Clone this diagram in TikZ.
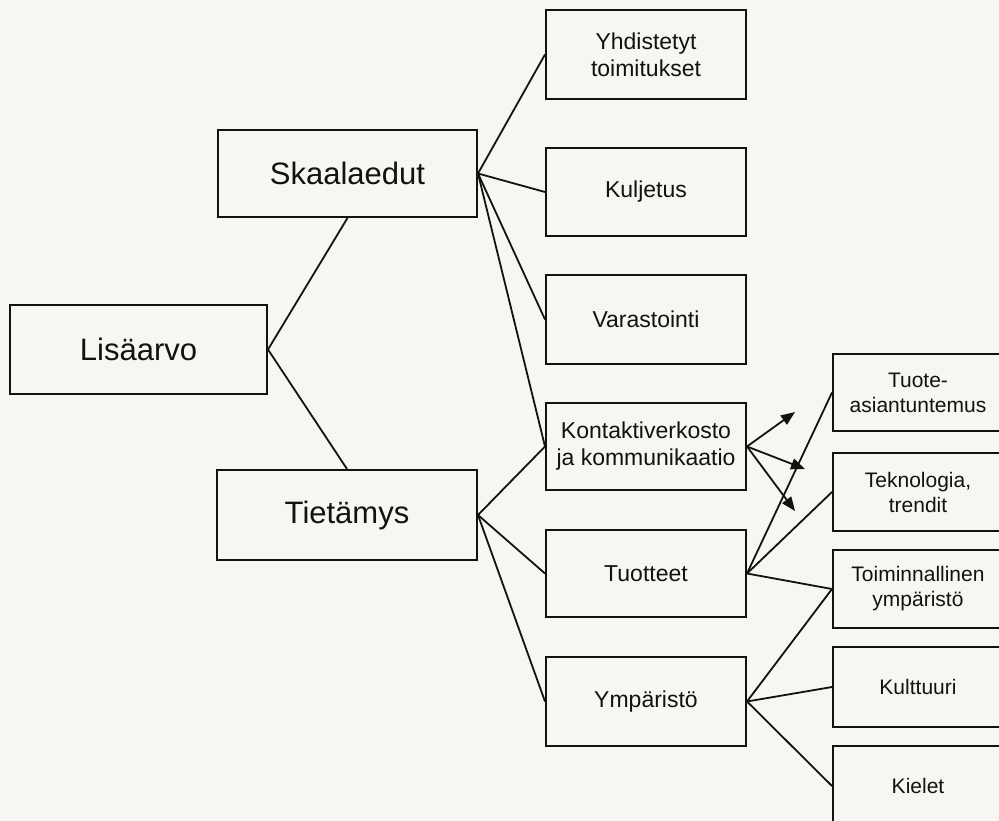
\documentclass[tikz,border=0pt]{standalone}
\usepackage{fontspec}
\setmainfont{Liberation Sans}
\usetikzlibrary{arrows.meta}
\definecolor{paper}{RGB}{248,246,243}
\definecolor{ink}{RGB}{20,18,16}
\tikzset{
  box/.style={draw=ink, line width=2pt, fill=paper, rectangle, inner sep=0pt,
    align=center, text=ink},
  bigbox/.style={box, font=\fontsize{31}{35}\selectfont},
  midbox/.style={box, font=\fontsize{23}{27}\selectfont, minimum width=200pt},
  smallbox/.style={box, font=\fontsize{21}{25}\selectfont, minimum width=170pt},
  link/.style={draw=ink, line width=1.8pt},
  arrowlink/.style={link, -{Triangle[length=14pt,width=11pt]}}
}
\begin{document}
\begin{tikzpicture}[x=1pt, y=-1pt]
  \useasboundingbox (0,0) rectangle (999,821);
  \clip (0,0) rectangle (999,821);
  \fill[paper] (0,0) rectangle (999,821);

  % left and second column
  \node[bigbox, minimum width=257pt, minimum height=89pt] (lisa)   at (138.5,349.5) {Lisäarvo};
  \node[bigbox, minimum width=259pt, minimum height=87pt] (skaala) at (347.5,173.5) {Skaalaedut};
  \node[bigbox, minimum width=260pt, minimum height=90pt] (tieta)  at (347,515)     {Tietämys};

  % middle column
  \node[midbox, minimum height=89pt] (yhd)  at (646,54.5)  {Yhdistetyt\\toimitukset};
  \node[midbox, minimum height=88pt] (kulj) at (646,192)   {Kuljetus};
  \node[midbox, minimum height=89pt] (vara) at (646,319.5) {Varastointi};
  \node[midbox, minimum height=87pt] (kont) at (646,446.5) {Kontaktiverkosto\\ja kommunikaatio};
  \node[midbox, minimum height=87pt] (tuot) at (646,573.5) {Tuotteet};
  \node[midbox, minimum height=89pt] (ymp)  at (646,701.5) {Ympäristö};

  % right column
  \node[smallbox, minimum height=77pt] (tuote) at (918,392.5) {Tuote-\\asiantuntemus};
  \node[smallbox, minimum height=78pt] (tekn)  at (918,492)   {Teknologia,\\trendit};
  \node[smallbox, minimum height=78pt] (toim)  at (918,589)   {Toiminnallinen\\ympäristö};
  \node[smallbox, minimum height=80pt] (kult)  at (918,687)   {Kulttuuri};
  \node[smallbox, minimum height=80pt] (kiel)  at (918,786)   {Kielet};

  % arrow ends out of the contact network box
  \coordinate (a1) at (795,412);
  \coordinate (a2) at (805,469);
  \coordinate (a3) at (795,511);

  % connectors
  \draw[link] (lisa.east) -- (skaala.south);
  \draw[link] (lisa.east) -- (tieta.north);

  \draw[link] (skaala.east) -- (yhd.west);
  \draw[link] (skaala.east) -- (kulj.west);
  \draw[link] (skaala.east) -- (vara.west);
  \draw[link] (skaala.east) -- (kont.west);

  \draw[link] (tieta.east) -- (kont.west);
  \draw[link] (tieta.east) -- (tuot.west);
  \draw[link] (tieta.east) -- (ymp.west);

  \draw[link] (tuot.east) -- (tuote.west);
  \draw[link] (tuot.east) -- (tekn.west);
  \draw[link] (tuot.east) -- (toim.west);

  \draw[link] (ymp.east) -- (toim.west);
  \draw[link] (ymp.east) -- (kult.west);
  \draw[link] (ymp.east) -- (kiel.west);

  \draw[arrowlink] (kont.east) -- (a1);
  \draw[arrowlink] (kont.east) -- (a2);
  \draw[arrowlink] (kont.east) -- (a3);
\end{tikzpicture}
\end{document}
